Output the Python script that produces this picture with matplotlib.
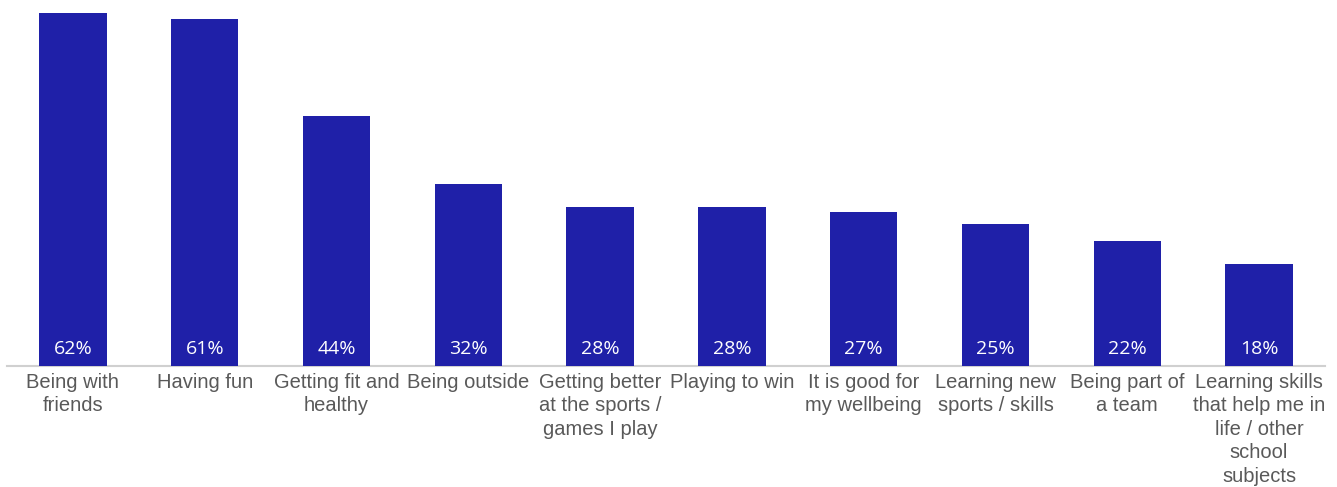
import matplotlib
matplotlib.use("Agg")
import matplotlib.pyplot as plt

categories = [
    "Being with\nfriends",
    "Having fun",
    "Getting fit and\nhealthy",
    "Being outside",
    "Getting better\nat the sports /\ngames I play",
    "Playing to win",
    "It is good for\nmy wellbeing",
    "Learning new\nsports / skills",
    "Being part of\na team",
    "Learning skills\nthat help me in\nlife / other\nschool\nsubjects",
]
values = [62, 61, 44, 32, 28, 28, 27, 25, 22, 18]
value_labels = ["62%", "61%", "44%", "32%", "28%", "28%", "27%", "25%", "22%", "18%"]

W, H = 1337, 487
fig = plt.figure(figsize=(W / 100, H / 100), dpi=100)
ax = fig.add_axes([7 / W, 121 / H, 1318 / W, 1 - 121 / H])

x = list(range(len(categories)))
bars = ax.bar(x, values, width=0.51, color="#1F20A8", zorder=2)

ax.set_xlim(-0.5, len(categories) - 0.5)
ax.set_ylim(0, 64.3)

for xi, lab in zip(x, value_labels):
    ax.annotate(lab, xy=(xi, 0), xytext=(0, 12.3), textcoords="offset points",
                ha="center", va="center", color="white", fontsize=14,
                family="Open Sans", zorder=3)

ax.set_xticks(x)
ax.set_xticklabels(categories, family="Liberation Sans", fontsize=14.5,
                   color="#595959", linespacing=1.3)
ax.tick_params(axis="x", length=0, pad=5)
ax.set_yticks([])
for s in ["top", "right", "left"]:
    ax.spines[s].set_visible(False)
ax.spines["bottom"].set_color("#D0D0D0")
ax.spines["bottom"].set_linewidth(1.5)
ax.spines["bottom"].set_zorder(1)

fig.savefig("out.png", dpi=100)
